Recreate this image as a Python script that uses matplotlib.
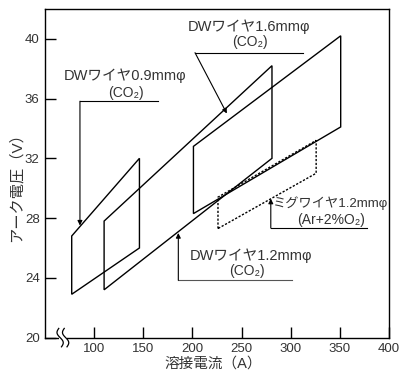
import matplotlib
matplotlib.use("Agg")
import matplotlib.pyplot as plt
from matplotlib.patches import Polygon, Rectangle
import numpy as np

plt.rcParams['font.family'] = ['Liberation Sans', 'Noto Sans CJK JP', 'DejaVu Sans']

# ---- data (current A, voltage V) ----
dw09_current = [77, 146]
dw09_v_low = [22.9, 26.0]
dw09_v_high = [26.8, 32.0]

dw12_current = [110, 281]
dw12_v_low = [23.2, 32.0]
dw12_v_high = [27.8, 38.2]

dw16_current = [201, 351]
dw16_v_low = [28.3, 34.1]
dw16_v_high = [32.8, 40.2]

mig12_current = [226, 326]
mig12_v_low = [27.3, 31.0]
mig12_v_high = [29.4, 33.2]

x_ticks = [100, 150, 200, 250, 300, 350, 400]
y_ticks = [20, 24, 28, 32, 36, 40]

TXT = '#333333'

fig = plt.figure(figsize=(4.0, 3.71), dpi=100)
ax = fig.add_axes([0.113, 0.090, 0.859, 0.886])
ax.set_xlim(50, 400)
ax.set_ylim(20, 42)


def region(cur, lo, hi, **kw):
    pts = [(cur[0], lo[0]), (cur[0], hi[0]), (cur[1], hi[1]), (cur[1], lo[1])]
    ax.add_patch(Polygon(pts, closed=True, fill=False, **kw))


region(dw09_current, dw09_v_low, dw09_v_high, ec='black', lw=1.0)
region(dw12_current, dw12_v_low, dw12_v_high, ec='black', lw=1.0)
region(dw16_current, dw16_v_low, dw16_v_high, ec='black', lw=1.0)
region(mig12_current, mig12_v_low, mig12_v_high, ec='black', lw=1.0,
       ls=(0, (1.6, 1.2)))

# ---- ticks / spines ----
ax.set_xticks(x_ticks)
ax.set_yticks(y_ticks)
ax.tick_params(direction='in', length=8, width=1.0, colors='black',
               labelcolor=TXT, labelsize=9.5, pad=4)
ax.tick_params(axis='x', top=False)
ax.tick_params(axis='y', right=False)
for s in ax.spines.values():
    s.set_linewidth(1.0)

ax.set_xlabel('溶接電流（A）', fontsize=10.5, color=TXT)
ax.xaxis.set_label_coords(0.49, -0.078)
ax.xaxis.label.set_va('center')
ax.set_ylabel('アーク電圧（V）', fontsize=11, color=TXT)
ax.yaxis.set_label_coords(-0.083, 0.47)
ax.yaxis.label.set_va('center')

# ---- axis break mark ----
tr = ax.transAxes
bx = (68 - 50) / 350.0
ax.add_patch(Rectangle((bx - 0.012, -0.01), 0.024, 0.02, transform=tr,
                       fc='white', ec='none', clip_on=False, zorder=5))
t = np.linspace(-1, 1, 40)
for off in (-0.008, 0.008):
    xs = bx + off - 0.007 * np.sin(t * np.pi) - 0.004 * t
    ys = 0.0 + 0.028 * t
    ax.plot(xs, ys, transform=tr, color='black', lw=0.9, clip_on=False,
            zorder=6)

arrow_kw = dict(arrowstyle='-|>', mutation_scale=7, lw=0.8, color='black',
                shrinkA=0, shrinkB=0)
LW = 0.8

# ---- DW 0.9 label ----
ax.text(131, 37.5, 'DWワイヤ0.9mmφ', ha='center', va='center', fontsize=10.5,
        color=TXT)
ax.text(132, 36.35, '(CO₂)', ha='center', va='center', fontsize=10, color=TXT)
ax.plot([85.4, 165], [35.82, 35.82], color='black', lw=LW)
ax.annotate('', xy=(85.4, 27.5), xytext=(85.4, 35.82), arrowprops=arrow_kw)

# ---- DW 1.6 label ----
ax.text(258, 40.8, 'DWワイヤ1.6mmφ', ha='center', va='center', fontsize=10.5,
        color=TXT)
ax.text(259, 39.78, '(CO₂)', ha='center', va='center', fontsize=10, color=TXT)
ax.plot([202.6, 312.7], [39.07, 39.07], color='black', lw=LW)
ax.annotate('', xy=(235, 35.0), xytext=(202.6, 39.07), arrowprops=arrow_kw)

# ---- DW 1.2 label ----
ax.text(259.5, 25.45, 'DWワイヤ1.2mmφ', ha='center', va='center', fontsize=10.5,
        color=TXT)
ax.text(255.5, 24.45, '(CO₂)', ha='center', va='center', fontsize=10, color=TXT)
ax.plot([185.6, 301.2], [23.84, 23.84], color='#555555', lw=LW)
ax.annotate('', xy=(185.6, 27.0), xytext=(185.6, 23.84), arrowprops=arrow_kw)

# ---- MIG 1.2 label ----
ax.text(340.5, 29.0, 'ミグワイヤ1.2mmφ', ha='center', va='center', fontsize=9.5,
        color=TXT)
ax.text(341, 27.85, '(Ar+2%O₂)', ha='center', va='center', fontsize=10,
        color=TXT)
ax.plot([279.8, 377.7], [27.33, 27.33], color='black', lw=LW)
ax.annotate('', xy=(279.8, 29.3), xytext=(279.8, 27.33), arrowprops=arrow_kw)

fig.savefig('out.png', dpi=100)
